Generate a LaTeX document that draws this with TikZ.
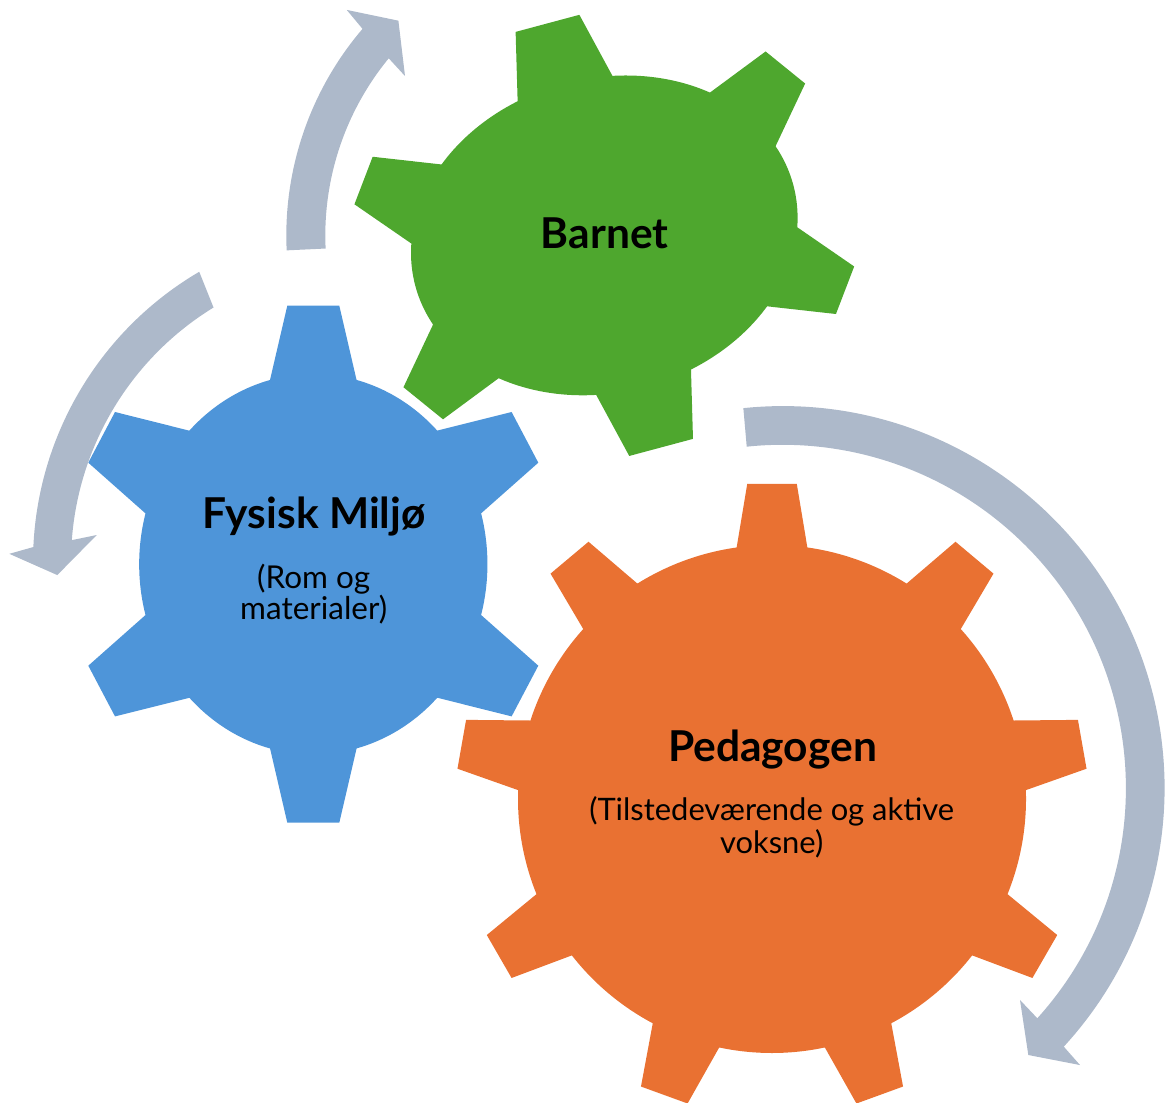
\documentclass[tikz,border=0pt]{standalone}
\usepackage{fontspec}
\setmainfont{Lato}
\definecolor{barnetgreen}{HTML}{4EA72E}
\definecolor{miljoblue}{HTML}{4E95D9}
\definecolor{pedorange}{HTML}{E97132}
\definecolor{arrowgray}{HTML}{ADB9CA}
\tikzset{
  geartitle/.style={inner sep=0pt, anchor=base, font=\fontsize{24.2}{29}\selectfont\bfseries},
  gearsub/.style={inner sep=0pt, anchor=base, align=center, font=\fontsize{17.6}{18.9}\selectfont},
  smallsub/.style={gearsub, font=\fontsize{17.9}{17.35}\selectfont},
}
\begin{document}
\begin{tikzpicture}[x=0.02cm,y=0.02cm]
  \useasboundingbox (0,0) rectangle (1168,1102);
  \clip (0,0) rectangle (1168,1102);

  \coordinate (gb) at (604.3,866.6);
  \coordinate (gm) at (313.3,537.8);
  \coordinate (gp) at (772,303);
  \coordinate (cm) at (369.5,540);
  \coordinate (cp) at (782.6,313.9);

  % Barnet
  \fill[barnetgreen, shift={(gb)}, rotate=15]
    (188.5,-42.1) arc[start angle=-15.5, end angle=15.5, x radius=195.7, y radius=157]
    -- (233.3,94.7) -- (203.4,135.9) -- (139,110.6)
    arc[start angle=44.8, end angle=75.5, x radius=195.7, y radius=157]
    -- (33,219.5) -- (-33,219.5) -- (-49,152)
    arc[start angle=104.5, end angle=135.2, x radius=195.7, y radius=157]
    -- (-203.4,135.9) -- (-233.3,94.7) -- (-188.5,42.1)
    arc[start angle=164.5, end angle=195.5, x radius=195.7, y radius=157]
    -- (-233.3,-94.7) -- (-203.4,-135.9) -- (-139,-110.6)
    arc[start angle=224.8, end angle=255.5, x radius=195.7, y radius=157]
    -- (-33,-219.5) -- (33,-219.5) -- (49,-152)
    arc[start angle=284.5, end angle=315.2, x radius=195.7, y radius=157]
    -- (203.4,-135.9) -- (233.3,-94.7) -- cycle;

  % Fysisk miljo
  \fill[miljoblue, shift={(gm)}]
    (167.8,-50.8) arc[start angle=-15.5, end angle=15.5, x radius=174.1, y radius=190.2]
    -- (225,101.5) -- (198.3,152.2) -- (123.9,133.6)
    arc[start angle=44.6, end angle=75.6, x radius=174.1, y radius=190.2]
    -- (26,258.5) -- (-26,258.5) -- (-43.3,184.2)
    arc[start angle=104.4, end angle=135.4, x radius=174.1, y radius=190.2]
    -- (-198.3,152.2) -- (-225,101.5) -- (-167.8,50.8)
    arc[start angle=164.5, end angle=195.5, x radius=174.1, y radius=190.2]
    -- (-225,-101.5) -- (-198.3,-152.2) -- (-123.9,-133.6)
    arc[start angle=224.6, end angle=255.6, x radius=174.1, y radius=190.2]
    -- (-26,-258.5) -- (26,-258.5) -- (43.3,-184.2)
    arc[start angle=284.4, end angle=315.4, x radius=174.1, y radius=190.2]
    -- (198.3,-152.2) -- (225,-101.5) -- cycle;

  % Pedagogen, 9 teeth
  \fill[pedorange, shift={(gp)}] (2:254)
    \foreach \a in {10,50,...,330} {
      -- ({\a-4.5}:316) -- ({\a+4.5}:316) -- ({\a+8}:254)
      arc[start angle=\a+8, end angle=\a+32, radius=254]
    } -- cycle;

  % arrows
  \fill[arrowgray, shift={(gb)}]
    (182.7:318) arc[start angle=182.7, end angle=139.5, radius=318]
    -- (138.8:342.3) -- (133.8:297.5) -- (141.35:255.2)
    -- (140.6:279) arc[start angle=140.6, end angle=182.7, radius=279] -- cycle;
  \fill[arrowgray, shift={(cm)}]
    (120.4:336.5) arc[start angle=120.4, end angle=177.45, radius=336.5]
    -- (178.7:360.3) -- (182.4:312.5) -- (174.35:274.1)
    -- (175.8:298.5) arc[start angle=175.8, end angle=121.5, radius=298.5] -- cycle;
  \fill[arrowgray, shift={(cp)}]
    (95.9:382) arc[start angle=95.9, end angle=-42.6, radius=382]
    -- (-42.96:406.4) -- (-47.37:362.8) -- (-41.75:318.2)
    -- (-42.1:343.3) arc[start angle=-42.1, end angle=96, radius=343.3] -- cycle;

  \node[geartitle] (barnet) at (604.6,853.7) {Barnet};
  \node[geartitle] (miljo) at (314,573.4) {Fysisk Miljø};
  \node[smallsub] (miljo-sub) at (313.7,482.7) {(Rom og\\materialer)};
  \node[geartitle] (pedagogen) at (772.5,340.3) {Pedagogen};
  \node[gearsub] (pedagogen-sub) at (771.7,248.7) {(Tilstedeværende og aktive\\voksne)};
\end{tikzpicture}
\end{document}
